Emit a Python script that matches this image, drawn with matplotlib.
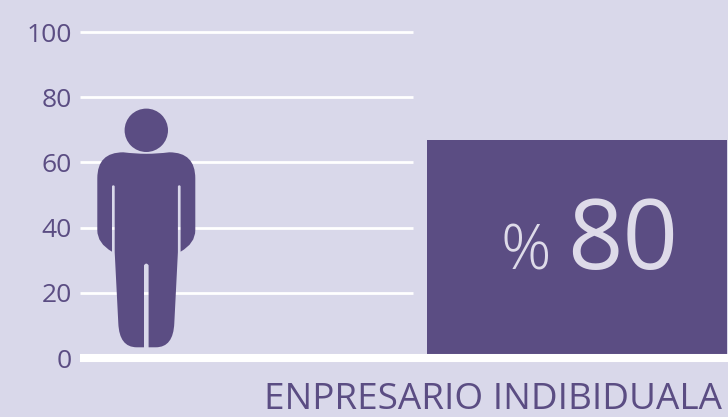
import matplotlib
matplotlib.use('Agg')
import matplotlib.pyplot as plt
from matplotlib.path import Path
from matplotlib.patches import PathPatch, Ellipse
from matplotlib.transforms import Affine2D

y_ticks = [0, 20, 40, 60, 80, 100]
grid_values = [20, 40, 60, 80, 100]
bar_value = 67
bar_label = '80'
percent_label = '%'
category = 'ENPRESARIO INDIBIDUALA'

BG = '#D9D8EA'
PURPLE = '#5B4D83'
LIGHT = '#DEDBE9'

W, H = 728, 417
TOP, BOTTOM, LEFT = 32.0, 358.0, 80.0
PX_Y = 100.0 / (BOTTOM - TOP)


def person_path():
    M, L, C = Path.MOVETO, Path.LINETO, Path.CURVE3
    # icon outline, dx from centre and px above the feet
    pts = [
        (M, (0, 193.5)),
        (C, (-11, 193.5)), (C, (-23, 195)),
        (C, (-49, 195)), (C, (-49, 169)),
        (L, (-49, 117)),
        (C, (-49, 104)), (C, (-34.3, 95.6)),
        (L, (-34.3, 161)),
        (C, (-33, 163.5)), (C, (-31.6, 161)),
        (L, (-31.6, 95)),
        (L, (-28, 24)),
        (C, (-27, 0)), (C, (-9.6, 0)),
        (L, (-2.3, 0)),
        (L, (-2.3, 82)),
        (C, (0, 85.5)), (C, (2.3, 82)),
        (L, (2.3, 0)),
        (L, (9.6, 0)),
        (C, (27, 0)), (C, (28, 24)),
        (L, (31.6, 95)),
        (L, (31.6, 161)),
        (C, (33, 163.5)), (C, (34.3, 161)),
        (L, (34.3, 95.6)),
        (C, (49, 104)), (C, (49, 117)),
        (L, (49, 169)),
        (C, (49, 195)), (C, (23, 195)),
        (C, (11, 193.5)), (C, (0, 193.5)),
    ]
    return Path([p[1] for p in pts], [p[0] for p in pts])


plt.rcParams['font.family'] = ['Open Sans', 'DejaVu Sans']
fig = plt.figure(figsize=(W / 100, H / 100), dpi=100, facecolor=BG)
ax = fig.add_axes([LEFT / W, 1 - BOTTOM / H, 1 - LEFT / W, (BOTTOM - TOP) / H])
ax.set_facecolor('none')
ax.set_xlim(LEFT, W)
ax.set_ylim(0, 100)
for s in ax.spines.values():
    s.set_visible(False)

ax.hlines(grid_values, LEFT, 413, color='white', lw=2.0, zorder=1, clip_on=False)
ax.bar([577], [bar_value], width=300, color=PURPLE, zorder=2)
ax.hlines([0], LEFT, W, color='white', lw=5.8, zorder=3, clip_on=False)

# pictogram
to_data = Affine2D().scale(1, PX_Y).translate(146.3, (BOTTOM - 347.3) * PX_Y) + ax.transData
ax.add_patch(PathPatch(person_path(), fc=PURPLE, ec='none', transform=to_data, zorder=4))
ax.add_patch(Ellipse((146.3, (BOTTOM - 130.3) * PX_Y), 43.4, 43.4 * PX_Y, fc=PURPLE, ec='none', zorder=4))

ax.set_yticks(y_ticks)
ax.set_yticklabels([str(v) for v in y_ticks], color=PURPLE, fontsize=19)
ax.set_xticks([493.5])
ax.set_xticklabels([category], color=PURPLE, fontsize=26.6)
ax.tick_params(axis='y', length=0, pad=5.8)
ax.tick_params(axis='x', length=0, pad=17)

ax.text(567, (BOTTOM - 269) * PX_Y, bar_label, color=LIGHT, fontsize=70,
        ha='left', va='baseline', zorder=5)
ax.text(501, (BOTTOM - 270) * PX_Y, percent_label, color=LIGHT, fontsize=45,
        fontweight='light', ha='left', va='baseline', zorder=5)

fig.savefig('out.png', dpi=100, facecolor=BG)
